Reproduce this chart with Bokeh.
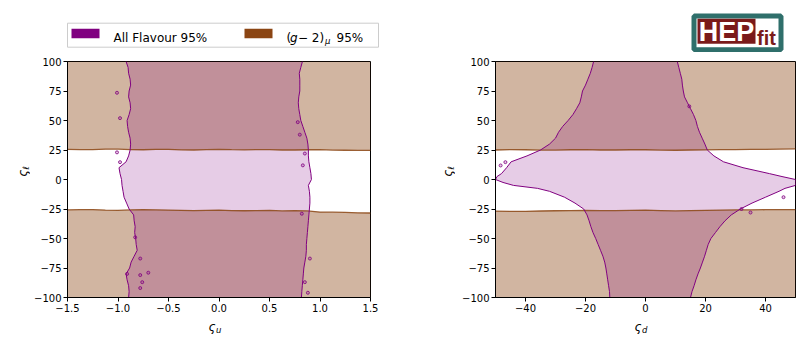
import math
from bokeh.plotting import figure
from bokeh.models import Range1d, FixedTicker, Label
from bokeh.layouts import column, row
from bokeh.embed import file_html
from bokeh.resources import INLINE

# ---------------- data ----------------
left_xlim = (-1.5, 1.5)
right_xlim = (-50, 50)
ylim = (-100, 100)

left_xticks = [-1.5, -1.0, -0.5, 0.0, 0.5, 1.0, 1.5]
left_xtick_labels = ["−1.5", "−1.0", "−0.5", "0.0", "0.5", "1.0", "1.5"]
right_xticks = [-40, -20, 0, 20, 40]
right_xtick_labels = ["−40", "−20", "0", "20", "40"]
yticks = [-100, -75, -50, -25, 0, 25, 50, 75, 100]
ytick_labels = ["−100", "−75", "−50", "−25", "0", "25", "50", "75", "100"]

# All Flavour 95% region, left panel (zeta_u vs zeta_l): edges at each zeta_l level
left_y = [100, 95, 90, 85, 80, 75, 70, 65, 60, 55, 50, 45, 40, 35, 30, 25, 20, 15, 10, 5,
          0, -5, -10, -15, -20, -25, -30, -35, -40, -45, -50, -55, -60, -65, -70, -75, -80,
          -85, -90, -95, -100]
left_xl = [-0.92, -0.90, -0.895, -0.88, -0.875, -0.89, -0.895, -0.88, -0.875, -0.89, -0.91,
           -0.905, -0.895, -0.88, -0.875, -0.88, -0.895, -0.92, -0.99, -0.98, -0.965, -0.96,
           -0.95, -0.94, -0.915, -0.89, -0.845, -0.84, -0.83, -0.835, -0.825, -0.82, -0.81,
           -0.84, -0.87, -0.885, -0.92, -0.91, -0.895, -0.89, -0.895]
left_xr = [0.826, 0.81, 0.795, 0.80, 0.80, 0.80, 0.79, 0.785, 0.79, 0.80, 0.81, 0.83, 0.85,
           0.87, 0.88, 0.885, 0.885, 0.89, 0.90, 0.91, 0.915, 0.885, 0.895, 0.90, 0.90, 0.895,
           0.89, 0.885, 0.88, 0.875, 0.87, 0.865, 0.865, 0.86, 0.85, 0.84, 0.835, 0.83, 0.825,
           0.82, 0.816]
left_island_x = [-1.01, -0.98, -1.01, -0.98, 0.78, 0.80, 0.85, 0.83, 0.82, 0.90, 0.85, 0.88,
                 -0.91, -0.78, -0.70, -0.76, -0.78, -0.78, -0.83]
left_island_y = [73.5, 52, 23, 14.7, 48.6, 38, 22, 12, -29, -67, -87, -96, -80, -81, -79,
                 -87, -92, -67, -49]

# (g-2)_mu 95% region, left panel: edge of the upper band and of the lower band
left_g2_x = [-1.5, -1.375, -1.25, -1.125, -1.0, -0.875, -0.75, -0.625, -0.5, -0.375, -0.25,
             -0.125, 0.0, 0.125, 0.25, 0.375, 0.5, 0.625, 0.75, 0.875, 1.0, 1.125, 1.25,
             1.375, 1.5]
left_g2_upper = [25.6, 25.4, 25.3, 25.7, 25.8, 25.4, 25.2, 25.5, 25.5, 25.1, 25.0, 25.4, 25.6,
                 25.3, 25.1, 25.4, 25.4, 25.0, 25.0, 25.2, 25.3, 24.9, 24.8, 24.7, 24.6]
left_g2_lower = [-25.8, -25.6, -25.5, -25.9, -26.2, -25.8, -25.6, -25.7, -25.9, -26.1, -26.4,
                 -26.2, -26.0, -26.3, -26.5, -26.3, -26.2, -26.6, -26.4, -26.6, -27.6, -27.7,
                 -27.9, -28.2, -28.4]

# right panel (zeta_d vs zeta_l)
right_y = [100, 95, 90, 85, 80, 75, 70, 65, 60, 55, 50, 45, 40, 35, 30, 25, 20, 15, 10, 5,
           2.5, 0, -2.5, -5, -7.5, -10, -15, -20, -25, -30, -35, -40, -45, -50, -55, -60, -65,
           -70, -75, -80, -85, -90, -95, -100]
right_xl = [-17.3, -17.8, -18.4, -19.2, -20.0, -21.0, -21.4, -21.9, -23.0, -24.2, -25.8, -27.6,
            -29.0, -30.0, -32.0, -35.0, -39.5, -44.8, -46.3, -48.0, -49.5, -50.0, -47.5, -44.0,
            -36.0, -32.0, -27.0, -23.5, -20.6, -19.5, -18.8, -18.2, -17.5, -16.6, -15.8, -15.0,
            -14.2, -13.6, -13.2, -12.9, -12.6, -12.3, -12.0, -11.9]
right_xr = [10.6, 11.1, 11.6, 12.1, 12.3, 12.6, 13.0, 14.0, 15.0, 16.0, 16.8, 17.3, 18.0, 18.9,
            19.8, 20.6, 22.8, 26.0, 32.5, 41.3, 45.5, 50.0, 50.0, 50.0, 46.5, 44.5, 40.0, 35.5,
            31.6, 28.6, 26.5, 24.8, 23.3, 21.8, 20.9, 20.3, 19.7, 19.0, 18.3, 17.5, 16.8, 16.2,
            15.5, 15.0]
right_island_x = [-46.7, -48.3, 32.0, 35.0, 46.0, 14.6]
right_island_y = [14.7, 11.9, -25.0, -28.0, -15.0, 62.0]

right_g2_x = [-50, -45, -40, -35, -30, -25, -20, -15, -10, -5, 0, 5, 10, 15, 20, 25, 30, 35,
              40, 45, 50]
right_g2_upper = [25.0, 25.3, 25.2, 24.9, 24.9, 25.2, 25.3, 25.0, 25.0, 25.2, 25.2, 24.9, 24.8,
                  25.0, 25.1, 25.3, 25.3, 25.5, 25.6, 25.8, 26.0]
right_g2_lower = [-26.8, -27.0, -27.0, -26.7, -26.5, -26.3, -26.2, -26.4, -26.4, -26.2, -26.0,
                  -26.3, -26.6, -26.3, -26.1, -25.9, -25.8, -25.7, -25.6, -25.5, -25.5]

legend_labels = ["All Flavour 95%", "95%"]

# ---------------- styling ----------------
PURPLE = "#800080"
BROWN = "#8B4513"
FONT = "DejaVu Sans"
ROW_H = 266          # page y 52 .. 318
BOTTOM_Y = 318


def strip(width, height, xr, yr):
    s = figure(width=width, height=height, x_range=Range1d(*xr), y_range=Range1d(*yr),
               toolbar_location=None, output_backend="svg", min_border=0,
               x_axis_location=None, y_axis_location=None)
    s.grid.visible = False
    s.outline_line_color = None
    s.background_fill_color = "white"
    s.border_fill_color = "white"
    return s


def make_panel(width, border_left, border_right, xlim, xticks, xtick_labels):
    p = figure(width=width, height=ROW_H, x_range=Range1d(*xlim), y_range=Range1d(*ylim),
               toolbar_location=None, output_backend="svg",
               min_border_left=border_left, min_border_right=border_right,
               min_border_top=9, min_border_bottom=21)
    p.xgrid.visible = False
    p.ygrid.visible = False
    p.outline_line_color = "black"
    p.outline_line_width = 1
    p.background_fill_color = "white"
    p.border_fill_color = "white"
    p.xaxis.ticker = FixedTicker(ticks=xticks)
    p.xaxis.major_label_overrides = {t: l for t, l in zip(xticks, xtick_labels)}
    p.yaxis.ticker = FixedTicker(ticks=yticks)
    p.yaxis.major_label_overrides = {t: l for t, l in zip(yticks, ytick_labels)}
    for ax in p.axis:
        ax.major_tick_out = 4
        ax.major_tick_in = 0
        ax.minor_tick_line_color = None
        ax.major_label_text_font = FONT
        ax.major_label_text_font_size = "10px"
        ax.major_label_text_color = "black"
        ax.major_label_standoff = 2
        ax.axis_line_color = "black"
        ax.major_tick_line_color = "black"
    return p


def draw(p, g2_x, g2_up, g2_lo, ys, xl, xr, isx, isy):
    p.varea(x=g2_x, y1=g2_up, y2=ylim[1], fill_color=BROWN, fill_alpha=0.4)
    p.varea(x=g2_x, y1=ylim[0], y2=g2_lo, fill_color=BROWN, fill_alpha=0.4)
    p.harea(x1=xl, x2=xr, y=ys, fill_color=PURPLE, fill_alpha=0.2)
    p.line(g2_x, g2_up, line_color=BROWN, line_width=1.3, line_alpha=0.85)
    p.line(g2_x, g2_lo, line_color=BROWN, line_width=1.3, line_alpha=0.85)
    p.line(xl, ys, line_color=PURPLE, line_width=1)
    p.line(xr, ys, line_color=PURPLE, line_width=1)
    p.scatter(isx, isy, size=3, marker="circle", line_color=PURPLE, line_width=0.8,
              fill_color=PURPLE, fill_alpha=0.2)


def lab(fig, x, y, text, size="12px", italic=False, align="left", baseline="alphabetic",
        angle=0.0, color="black", font=FONT, bold=False):
    style = "bold" if bold else ("italic" if italic else "normal")
    fig.add_layout(Label(x=x, y=y, text=text, text_font=font, text_font_style=style,
                         text_font_size=size, text_align=align, text_baseline=baseline,
                         angle=angle, text_color=color))


# ---------------- panels ----------------
left = make_panel(375, 37, 35, left_xlim, left_xticks, left_xtick_labels)     # page x 30..405
draw(left, left_g2_x, left_g2_upper, left_g2_lower, left_y, left_xl, left_xr,
     left_island_x, left_island_y)

right = make_panel(344, 40, 4, right_xlim, right_xticks, right_xtick_labels)  # page x 455..799
draw(right, right_g2_x, right_g2_upper, right_g2_lower, right_y, right_xl, right_xr,
     right_island_x, right_island_y)

# y-axis label strips (data coordinates = page pixels)
ylab1 = strip(30, ROW_H, (0, 30), (BOTTOM_Y, 52))
lab(ylab1, 22, 178, "ς", italic=True, align="center", baseline="middle", angle=math.pi / 2)
lab(ylab1, 25.5, 172, "ℓ", size="8.5px", italic=True, align="center", baseline="middle",
    angle=math.pi / 2)
ylab2 = strip(50, ROW_H, (405, 455), (BOTTOM_Y, 52))
lab(ylab2, 447, 178, "ς", italic=True, align="center", baseline="middle", angle=math.pi / 2)
lab(ylab2, 450.5, 172, "ℓ", size="8.5px", italic=True, align="center", baseline="middle",
    angle=math.pi / 2)

# x-axis label strip (page y 318 .. 336)
xlab = strip(799, 18, (0, 799), (336, BOTTOM_Y))
lab(xlab, 208, 326, "ς", italic=True)
lab(xlab, 215.5, 329.3, "u", size="8.5px", italic=True)
lab(xlab, 634, 326, "ς", italic=True)
lab(xlab, 641.5, 329.3, "d", size="8.5px", italic=True)

# ---------------- top strip: legend and logo (y = 52 - page y) ----------------
top = strip(800, 52, (0, 800), (0, 52))
top.quad(left=[67], right=[378], top=[29.3], bottom=[5.3], fill_color="white",
         line_color="#cccccc", line_width=1)
top.quad(left=[71], right=[99], top=[23.7], bottom=[14.3], fill_color=PURPLE, line_color=None)
top.quad(left=[244], right=[272], top=[23.7], bottom=[14.3], fill_color=BROWN, line_color=None)
lab(top, 113, 14.3, legend_labels[0])
lab(top, 286, 14.3, "(")
lab(top, 289.5, 14.3, "g", italic=True)
lab(top, 297.5, 14.3, "− 2)")
lab(top, 324.5, 11.5, "μ", size="8.5px", italic=True)
lab(top, 336, 14.3, legend_labels[1])

# HEPfit logo
top.quad(left=[693.5], right=[780.5], top=[36.5], bottom=[2.8], fill_color="white",
         line_color="#2f6f6b", line_width=5)
top.quad(left=[697], right=[755], top=[33.7], bottom=[8.7], fill_color="#7a1a1a",
         line_color=None)
lab(top, 726, 20.8, "HEP", size="27px", align="center", baseline="middle", color="white",
    font="Liberation Sans Narrow, Liberation Sans", bold=True)
lab(top, 766, 14.5, "fit", size="20px", align="center", baseline="middle", color="#7a1a1a",
    font="Liberation Sans", bold=True)

layout = column(top, row(ylab1, left, ylab2, right), xlab)
open("out.html", "w").write(file_html(layout, INLINE))
